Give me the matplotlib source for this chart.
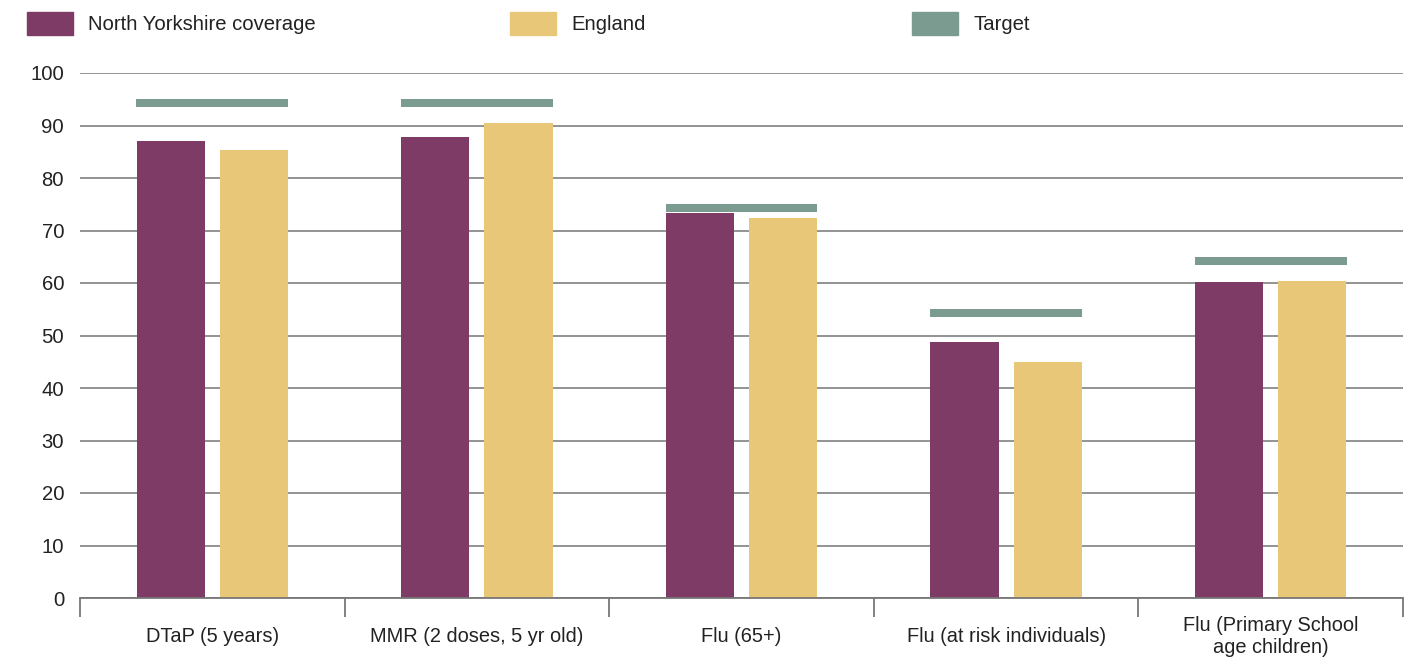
import matplotlib
matplotlib.use("Agg")
import matplotlib.pyplot as plt
from matplotlib.patches import Rectangle
import numpy as np

categories = ["DTaP (5 years)", "MMR (2 doses, 5 yr old)", "Flu (65+)",
              "Flu (at risk individuals)", "Flu (Primary School\nage children)"]
north_yorkshire = [87.0, 87.8, 73.3, 48.8, 60.2]
england = [85.3, 90.5, 72.4, 45.0, 60.4]
target = [95, 95, 75, 55, 65]
legend_labels = ["North Yorkshire coverage", "England", "Target"]

c_ny = "#7E3B66"
c_en = "#E8C779"
c_tg = "#7C9B90"
txt = "#222222"

plt.rcParams["font.family"] = ["Liberation Sans", "DejaVu Sans"]

fig = plt.figure(figsize=(14.13, 6.64), dpi=100)
ax = fig.add_axes([80/1413, 1-598/664, (1403-80)/1413, (598-73)/664])

x = np.arange(len(categories)) + 0.5
bw = 0.258
off = 0.157
ax.bar(x - off, north_yorkshire, width=bw, color=c_ny, zorder=2)
ax.bar(x + off, england, width=bw, color=c_en, zorder=2)
tgt = np.array(target, dtype=float)
ax.bar(x, [1.5]*len(target), bottom=tgt - 1.5, width=0.574, color=c_tg, zorder=3)

ax.set_xlim(0, len(categories))
ax.set_ylim(0, 100)
ax.set_yticks(range(0, 101, 10))
ax.yaxis.grid(True, color="#8a8a8a", lw=1.3, zorder=0)
ax.set_axisbelow(True)
for s in ["top", "right", "left"]:
    ax.spines[s].set_visible(False)
ax.spines["bottom"].set_color("#777777")
ax.spines["bottom"].set_linewidth(1.3)

ax.set_xticks(x)
ax.set_xticklabels(categories, fontsize=14.4, color=txt)
for lab in ax.get_xticklabels():
    lab.set_verticalalignment("center")
ax.tick_params(axis="x", which="major", length=0, pad=28)
ax.set_xticks(np.arange(len(categories) + 1), minor=True)
ax.tick_params(axis="x", which="minor", length=14, width=1.3, color="#777777")
ax.tick_params(axis="y", length=0, labelsize=14.6, colors=txt, pad=11.5)

# Legend (manual)
handles = [c_ny, c_en, c_tg]
lx = [27, 510, 912]
for col, px, lab in zip(handles, lx, legend_labels):
    fig.add_artist(Rectangle((px/1413, 1-35/664), 46/1413, 23/664,
                             transform=fig.transFigure, color=col))
    fig.text((px + 61)/1413, 1-24/664, lab, fontsize=14.6, color=txt,
             va="center", ha="left")

fig.savefig("out.png", dpi=100)
